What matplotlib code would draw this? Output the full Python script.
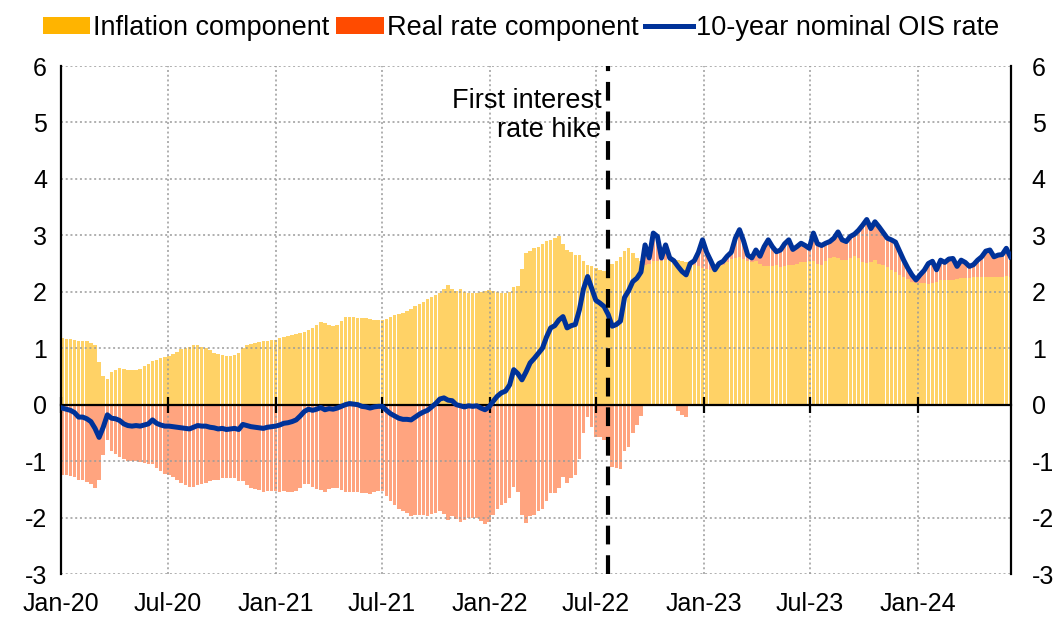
import numpy as np
import pandas as pd
import matplotlib
matplotlib.use('Agg')
import matplotlib.pyplot as plt
import matplotlib.dates as mdates
from matplotlib.patches import Patch
from matplotlib.lines import Line2D

plt.rcParams['font.family'] = ['Liberation Sans', 'DejaVu Sans']
plt.rcParams['axes.unicode_minus'] = False

# ---------------- data (weekly, Fridays from 2020-01-03) ----------------
start_date = '2020-01-03'

ois_2020 = [-0.06, -0.08, -0.10, -0.14, -0.22, -0.22, -0.25, -0.30, -0.42,
            -0.58, -0.40, -0.18, -0.24, -0.25, -0.28, -0.34, -0.37,
            -0.38, -0.37, -0.38, -0.36, -0.34, -0.27, -0.33, -0.36, -0.38,
            -0.38, -0.39, -0.40, -0.41, -0.42, -0.43, -0.40, -0.37, -0.38,
            -0.38, -0.40, -0.41, -0.43, -0.42, -0.44, -0.43, -0.42, -0.44,
            -0.35, -0.37, -0.39, -0.40, -0.41, -0.42, -0.40, -0.39]
ois_2021 = [-0.38, -0.36, -0.33, -0.32, -0.30, -0.27, -0.20, -0.12, -0.08,
            -0.10, -0.08, -0.05, -0.09, -0.07, -0.08, -0.06, -0.03, 0.00,
            0.02, 0.01, 0.00, -0.03, -0.04, -0.06, -0.04, -0.03,
            -0.03, -0.10, -0.16, -0.20, -0.24, -0.26, -0.26, -0.27, -0.22,
            -0.17, -0.13, -0.10, -0.04, 0.02, 0.10, 0.12, 0.08, 0.07,
            0.00, -0.02, -0.04, -0.02, -0.03, -0.02, -0.06, -0.09, -0.04]
ois_2022 = [0.06, 0.15, 0.21, 0.24, 0.35, 0.62, 0.55, 0.44,
            0.58, 0.74, 0.82, 0.91, 1.00, 1.20, 1.36, 1.40, 1.50,
            1.56, 1.36, 1.40, 1.42, 1.68, 2.05, 2.27, 2.06,
            1.85, 1.80, 1.74, 1.60, 1.39, 1.42, 1.48, 1.90, 2.02,
            2.18, 2.24, 2.35, 2.83, 2.60, 3.04, 2.98, 2.60, 2.83,
            2.60, 2.55, 2.45, 2.36, 2.30, 2.50, 2.55, 2.70, 2.92]
ois_2023 = [2.70, 2.55, 2.39, 2.50, 2.54, 2.63, 2.70, 2.95,
            3.10, 2.90, 2.65, 2.60, 2.74, 2.63, 2.80, 2.92, 2.80,
            2.71, 2.74, 2.85, 2.92, 2.75, 2.80, 2.86, 2.82, 2.77,
            3.04, 2.85, 2.82, 2.86, 2.89, 2.95, 3.06, 2.92,
            2.89, 2.98, 3.02, 3.09, 3.18, 3.28, 3.12, 3.24, 3.15,
            3.05, 2.95, 2.92, 2.88, 2.72, 2.56, 2.42, 2.30, 2.21]
ois_2024 = [2.30, 2.38, 2.50, 2.54, 2.39, 2.56, 2.52, 2.58,
            2.59, 2.45, 2.56, 2.52, 2.45, 2.48, 2.56, 2.62, 2.72,
            2.74, 2.62, 2.65, 2.66, 2.77, 2.62]

infl_2020 = [1.18, 1.17, 1.17, 1.15, 1.12, 1.12, 1.12, 1.10, 1.05,
             0.75, 0.50, 0.45, 0.58, 0.62, 0.65, 0.63, 0.62,
             0.62, 0.62, 0.64, 0.68, 0.72, 0.78, 0.80, 0.82, 0.84,
             0.87, 0.90, 0.94, 0.98, 1.00, 1.03, 1.06, 1.05, 1.02,
             1.00, 0.96, 0.92, 0.90, 0.88, 0.86, 0.87, 0.88, 0.92,
             1.00, 1.05, 1.08, 1.10, 1.11, 1.12, 1.13, 1.14]
infl_2021 = [1.15, 1.18, 1.20, 1.22, 1.24, 1.26, 1.27, 1.28, 1.32,
             1.35, 1.42, 1.47, 1.45, 1.42, 1.40, 1.42, 1.48, 1.55,
             1.56, 1.55, 1.54, 1.53, 1.53, 1.52, 1.50, 1.50,
             1.50, 1.52, 1.55, 1.58, 1.60, 1.62, 1.66, 1.70, 1.74,
             1.78, 1.82, 1.87, 1.90, 1.94, 1.98, 2.05, 2.12, 2.05,
             2.02, 2.05, 2.00, 1.98, 1.97, 1.98, 2.00, 2.02, 2.04]
infl_2022 = [2.02, 2.00, 1.98, 1.98, 2.00, 2.08, 2.10, 2.40,
             2.68, 2.72, 2.78, 2.80, 2.85, 2.90, 2.92, 2.96, 2.98,
             2.85, 2.74, 2.70, 2.66, 2.65, 2.55, 2.48, 2.45,
             2.42, 2.38, 2.36, 2.40, 2.50, 2.55, 2.62, 2.72, 2.77,
             2.68, 2.60, 2.55, 2.48, 2.50, 2.54, 2.54, 2.55, 2.57,
             2.57, 2.58, 2.56, 2.54, 2.52, 2.50, 2.48, 2.45, 2.42]
infl_2023 = [2.40, 2.39, 2.42, 2.46, 2.48, 2.52, 2.58, 2.60,
             2.62, 2.58, 2.54, 2.52, 2.54, 2.50, 2.45, 2.45, 2.46,
             2.48, 2.44, 2.45, 2.48, 2.48, 2.50, 2.52, 2.53, 2.54,
             2.54, 2.50, 2.48, 2.55, 2.60, 2.62, 2.60, 2.56,
             2.56, 2.60, 2.64, 2.60, 2.52, 2.51, 2.52, 2.56, 2.50,
             2.48, 2.44, 2.38, 2.35, 2.30, 2.26, 2.22, 2.18, 2.15]
infl_2024 = [2.15, 2.15, 2.14, 2.15, 2.18, 2.21, 2.21, 2.20,
             2.21, 2.22, 2.24, 2.24, 2.25, 2.27, 2.27, 2.26, 2.27,
             2.27, 2.27, 2.26, 2.27, 2.28, 2.27]

tick_dates = ['2020-01-01', '2020-07-01', '2021-01-01', '2021-07-01', '2022-01-01',
              '2022-07-01', '2023-01-01', '2023-07-01', '2024-01-01']
tick_labels = ['Jan-20', 'Jul-20', 'Jan-21', 'Jul-21', 'Jan-22',
               'Jul-22', 'Jan-23', 'Jul-23', 'Jan-24']
y_ticks = [-3, -2, -1, 0, 1, 2, 3, 4, 5, 6]
hike_date = '2022-07-21'
x_start, x_end = '2020-01-01', '2024-06-08'

labels = ['Inflation component', 'Real rate component', '10-year nominal OIS rate']
annotation = 'First interest\nrate hike'

# ---------------- derived ----------------
ois = np.array(ois_2020 + ois_2021 + ois_2022 + ois_2023 + ois_2024)
infl = np.array(infl_2020 + infl_2021 + infl_2022 + infl_2023 + infl_2024)
real = ois - infl
dates = pd.date_range(start_date, periods=len(ois), freq='W-FRI')
xd = mdates.date2num(dates)
real_bottom = np.where(real >= 0, infl, 0.0)

C_INFL = '#FFB400'
C_REAL = '#FF4B00'
C_LINE = '#003299'
FS = 19.5
TFS = 18

fig = plt.figure(figsize=(10.62, 6.19), dpi=100)
ax = fig.add_axes([61 / 1062, 1 - 574 / 619, (1011 - 61) / 1062, (574 - 66) / 619])

ax.bar(xd, infl, width=6.0, color=C_INFL, alpha=0.6, linewidth=0, zorder=1)
ax.bar(xd, real, bottom=real_bottom, width=6.0, color=C_REAL, alpha=0.5,
       linewidth=0, zorder=1)
ax.plot(xd, ois, color=C_LINE, lw=3.6, zorder=4, solid_joinstyle='round')

hx = mdates.date2num(pd.Timestamp(hike_date))
ax.axvline(hx, color='black', lw=3, dashes=(4.5, 2.6), zorder=5)
ax.text(hx - 10, 5.12, annotation, ha='right', va='center', fontsize=FS,
        linespacing=1.12, zorder=6)

ax.set_xlim(mdates.date2num(pd.Timestamp(x_start)), mdates.date2num(pd.Timestamp(x_end)))
ax.set_ylim(-3, 6)
ax.set_yticks(y_ticks)
tx = mdates.date2num(pd.to_datetime(tick_dates))
ax.set_xticks(tx)

ax.grid(True, color='#9a9a9a', linestyle=(0, (1.3, 1.8)), lw=1.1)
ax.set_axisbelow('line')

for s in ['left', 'right']:
    ax.spines[s].set_color('black')
    ax.spines[s].set_linewidth(1.6)
ax.spines['top'].set_visible(False)
ax.spines['bottom'].set_position(('data', 0))
ax.spines['bottom'].set_linewidth(1.6)
ax.spines['bottom'].set_zorder(3.5)

ax.tick_params(axis='x', direction='inout', length=12, width=1.6, labelbottom=False,
               color='black')
ax.tick_params(axis='y', length=0, pad=10, labelsize=TFS)

sec = ax.secondary_xaxis(0.0)
sec.set_xticks(tx, labels=tick_labels)
sec.tick_params(length=0, pad=13, labelsize=TFS)
sec.spines['bottom'].set_visible(False)

ax2 = ax.twinx()
ax2.set_ylim(-3, 6)
ax2.set_yticks(y_ticks)
ax2.tick_params(axis='y', length=0, pad=15, labelsize=TFS)
for s in ax2.spines.values():
    s.set_visible(False)

handles = [Patch(facecolor=C_INFL, edgecolor='none'),
           Patch(facecolor=C_REAL, edgecolor='none'),
           Line2D([], [], color=C_LINE, lw=3.6)]
fig.legend(handles, labels, loc='center', bbox_to_anchor=(521 / 1062, 1 - 28 / 619),
           ncol=3, frameon=False, fontsize=FS, handlelength=1.75, handleheight=0.55,
           handletextpad=0.12, columnspacing=0.25, borderaxespad=0, borderpad=0)

fig.savefig('out.png', dpi=100)
